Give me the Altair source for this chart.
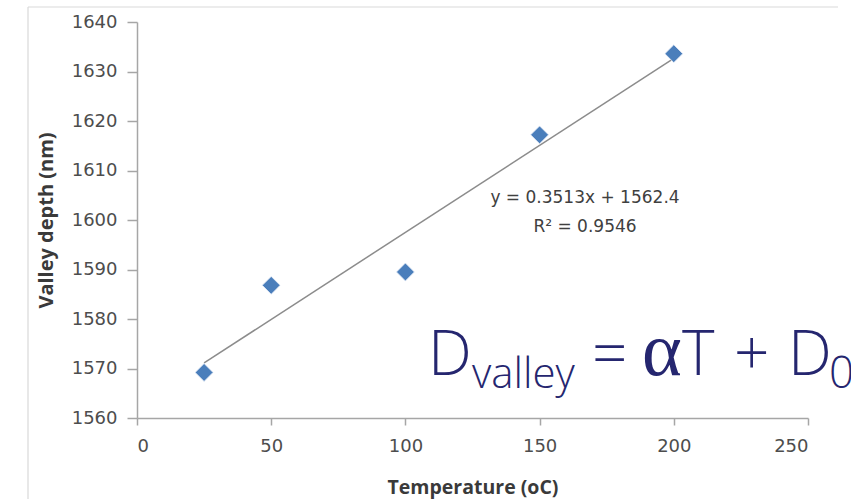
import altair as alt
import pandas as pd

# Data
temps = [25, 50, 100, 150, 200]
depths = [1569.2, 1586.8, 1589.5, 1617.2, 1633.6]
x_ticks = [0, 50, 100, 150, 200, 250]
y_ticks = [1560, 1570, 1580, 1590, 1600, 1610, 1620, 1630, 1640]
eq_lines = ["y = 0.3513x + 1562.4", "R\u00b2 = 0.9546"]

df = pd.DataFrame({"T": temps, "D": depths})

LABEL_FONT = "DejaVu Sans"
TITLE_FONT = "Open Sans"
FORMULA_FONT = "Open Sans"
NAVY = "#25266f"

x_enc = alt.X("T:Q", scale=alt.Scale(domain=[0, 250], nice=False, zero=False),
              axis=alt.Axis(values=x_ticks, format="d", title="Temperature (oC)", grid=False,
                            tickSize=7, labelPadding=12, titleY=75,
                            titleBaseline="alphabetic", titleFontSize=19.5,
                            titleFontWeight="bold"))
y_enc = alt.Y("D:Q", scale=alt.Scale(domain=[1560, 1640], nice=False, zero=False),
              axis=alt.Axis(values=y_ticks, format="d", title="Valley depth (nm)", grid=False,
                            tickSize=10, labelPadding=10, titleX=-91,
                            titleBaseline="middle", titleFontSize=20,
                            titleFontWeight="bold"))

base = alt.Chart(df)

trend = base.transform_regression("T", "D").mark_line(
    color="#8c8c8c", strokeWidth=1.5
).encode(x=x_enc, y=y_enc)

points = base.mark_point(
    shape="diamond", filled=True, size=320, color="#4a7ebb", opacity=1,
    stroke="#e8eef7", strokeWidth=0.8
).encode(x="T:Q", y="D:Q")

eq_df = pd.DataFrame({"txt": eq_lines, "px": [448, 448], "py": [181, 210]})
eq = alt.Chart(eq_df).mark_text(
    font=LABEL_FONT, fontSize=17, color="#404040", align="center", baseline="alphabetic"
).encode(x=alt.X("px:Q", scale=None), y=alt.Y("py:Q", scale=None), text="txt:N")


# Big formula  D_valley = αT + D_0
def piece(txt, px, py, size, font=FORMULA_FONT, weight=300):
    return alt.Chart(pd.DataFrame({"t": [txt]})).mark_text(
        font=font, fontSize=size, color=NAVY, align="left", baseline="alphabetic",
        fontWeight=weight
    ).encode(x=alt.value(px), y=alt.value(py), text="t:N")


formula = (
    piece("D", 291, 353, 62)
    + piece("valley", 335, 366, 42)
    + piece("=", 455, 353, 62)
    + piece("\u03b1", 505, 353, 76, "Liberation Serif", "normal")
    + piece("T", 545, 353, 62)
    + piece("+", 597, 353, 62)
    + piece("D", 651, 353, 62)
    + piece("0", 692, 366, 44)
)

# Outer frame (light grey) top and left edges
frame_top = alt.Chart(pd.DataFrame({"a": [0]})).mark_rule(color="#d9d9d9", strokeWidth=1.2).encode(
    x=alt.value(-109), x2=alt.value(701), y=alt.value(-15))
frame_left = alt.Chart(pd.DataFrame({"a": [0]})).mark_rule(color="#d9d9d9", strokeWidth=1.2).encode(
    x=alt.value(-109), y=alt.value(-15), y2=alt.value(477))

chart = alt.layer(frame_top, frame_left, trend, points, eq, formula).properties(
    width=671, height=396,
    padding={"left": 137, "top": 22, "right": 43, "bottom": 81},
    autosize=alt.AutoSizeParams(type="none"),
    background="white",
).configure_view(stroke=None).configure_axis(
    domainColor="#a6a6a6", domainWidth=1.5, tickColor="#a6a6a6", tickWidth=1.5,
    labelFont=LABEL_FONT, labelFontSize=18, labelColor="#4d4d4d",
    titleFont=TITLE_FONT, titleColor="#3a3a3a",
).configure_axisY(labelAlign="right")

chart.save("out.html", embed_options={"renderer": "svg", "actions": False})
